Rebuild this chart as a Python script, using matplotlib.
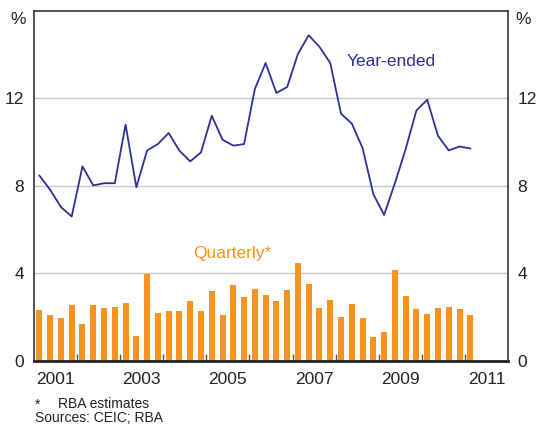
import numpy as np
import pandas as pd
import matplotlib
matplotlib.use('Agg')
import matplotlib.pyplot as plt

plt.rcParams['font.family'] = ['Liberation Sans', 'DejaVu Sans']

# quarterly data, March 2001 to March 2011
quarters = pd.period_range('2001Q1', '2011Q1', freq='Q')
quarterly = [2.32, 2.09, 1.97, 2.55, 1.68, 2.55, 2.41, 2.46, 2.64, 1.13,
             3.98, 2.18, 2.27, 2.27, 2.73, 2.27, 3.21, 2.09, 3.47, 2.92,
             3.28, 3.01, 2.73, 3.24, 4.47, 3.51, 2.41, 2.78, 2.00, 2.60,
             1.95, 1.08, 1.31, 4.15, 2.96, 2.37, 2.14, 2.41, 2.46, 2.37,
             2.09]
year_ended = [8.47, 7.82, 7.03, 6.60, 8.89, 8.02, 8.12, 8.12, 10.80, 7.94,
              9.62, 9.91, 10.42, 9.61, 9.12, 9.53, 11.21, 10.11, 9.84, 9.91,
              12.43, 13.62, 12.25, 12.52, 14.04, 14.89, 14.36, 13.62, 11.30, 10.85,
              9.73, 7.62, 6.67, 8.12, 9.68, 11.45, 11.94, 10.29, 9.62, 9.80,
              9.71]
year_labels = ['2001', '2003', '2005', '2007', '2009', '2011']

x = np.array([p.year + (p.quarter - 0.5) / 4 for p in quarters])

navy = '#2E3192'
orange = '#F7931E'
spine_c = '#333333'

fig = plt.figure(figsize=(5.36, 4.26), dpi=100)
ax = fig.add_axes([34 / 536, 1 - 360.7 / 426, 474 / 536, 349.7 / 426])

ax.bar(x, quarterly, width=0.14, color=orange, zorder=2)
ax.plot(x, year_ended, color=navy, lw=1.3, zorder=3)

ax.set_xlim(2001, 2012)
ax.set_ylim(0, 16)
for v in [4, 8, 12]:
    ax.axhline(v, color='#C8C8C8', lw=1.0, zorder=1)

ax.set_yticks([0, 4, 8, 12])
ax.tick_params(axis='y', length=0, pad=7, labelsize=12.5, colors='#222222',
               left=False, right=False, labelleft=True, labelright=True)

ax.set_xticks(np.arange(2002, 2012))
ax.set_xticklabels([])
ax.set_xticks([int(y) + 0.5 for y in year_labels], minor=True)
ax.set_xticklabels(year_labels, minor=True)
ax.tick_params(axis='x', which='major', direction='in', length=5, width=1,
               color='#555555')
ax.tick_params(axis='x', which='minor', length=0, pad=8, labelsize=12.5,
               colors='#222222')

for s in ['left', 'right', 'top']:
    ax.spines[s].set_color(spine_c)
    ax.spines[s].set_linewidth(1.2)
ax.spines['bottom'].set_color('#222222')
ax.spines['bottom'].set_linewidth(2)

fig.text(26 / 536, 1 - 20 / 426, '%', ha='right', va='center', fontsize=12.5,
         color='#222222')
fig.text(515 / 536, 1 - 20 / 426, '%', ha='left', va='center', fontsize=12.5,
         color='#222222')

ax.text(2008.26, 13.7, 'Year-ended', color=navy, fontsize=12.5,
        ha='left', va='center')
ax.text(2005.6, 4.92, 'Quarterly*', color=orange, fontsize=12.5,
        ha='center', va='center')

fig.text(35 / 536, 1 - 404.5 / 426, '*', fontsize=10, va='center', color='#222222')
fig.text(58 / 536, 1 - 404.5 / 426, 'RBA estimates', fontsize=10, va='center',
         color='#222222')
fig.text(35 / 536, 1 - 418.5 / 426, 'Sources: CEIC; RBA', fontsize=10,
         va='center', color='#222222')

fig.savefig('out.png', dpi=100)
